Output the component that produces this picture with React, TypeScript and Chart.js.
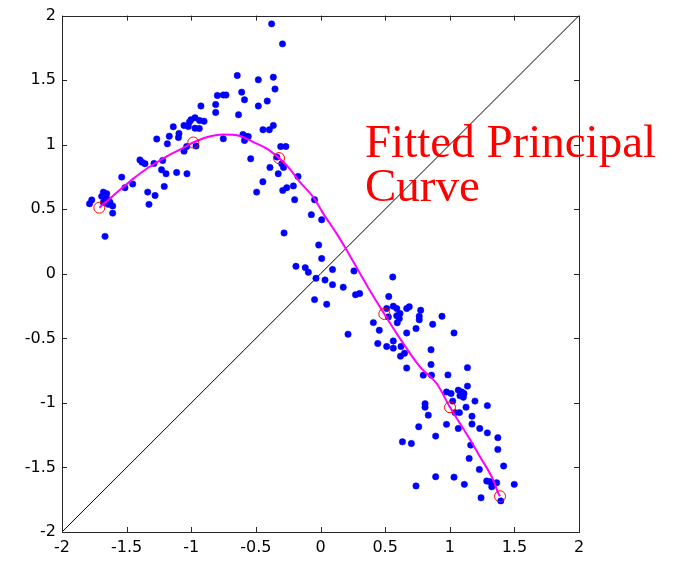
import React, { useEffect, useRef } from "react";
import { Chart, registerables } from "chart.js";

Chart.register(...registerables);

// Axis ticks
const xTickValues = [-2, -1.5, -1, -0.5, 0, 0.5, 1, 1.5, 2];
const yTickValues = [-2, -1.5, -1, -0.5, 0, 0.5, 1, 1.5, 2];

// Scattered observations (blue)
const scatterX = [
  -1.770, -1.787, -1.680, -1.654, -1.693, -1.667, -1.642, -1.629, -1.680, -1.642,
  -1.608, -1.608, -1.667, -1.538, -1.513, -1.453, -1.337, -1.280, -1.327, -1.209,
  -1.397, -1.381, -1.358, -1.288, -1.221, -1.230, -1.195, -1.113, -1.033, -1.267,
  -1.185, -1.170, -1.139, -1.095, -1.099, -1.056, -1.023, -1.014, -1.002, -0.971,
  -0.936, -0.901, -0.971, -0.938, -1.056, -1.035, -0.963, -0.925, -0.811, -0.811,
  -0.798, -0.752, -0.731, -0.752, -0.644, -0.610, -0.588, -0.634, -0.481, -0.365,
  -0.352, -0.412, -0.481, -0.378, -0.294, -0.365, -0.445, -0.396, -0.600, -0.571,
  -0.559, -0.588, -0.308, -0.268, -0.540, -0.337, -0.300, -0.286, -0.391, -0.327,
  -0.174, -0.446, -0.494, -0.292, -0.261, -0.210, -0.200, -0.046, -0.071, 0.009,
  -0.282, -0.014, 0.009, -0.190, -0.118, -0.094, 0.093, 0.259, -0.035, 0.035,
  0.093, 0.176, 0.271, 0.303, -0.046, 0.048, 0.559, 0.528, 0.512, 0.563,
  0.590, 0.667, 0.687, 0.775, 0.764, 0.764, 0.940, 0.868, 0.739, 0.667,
  0.409, 0.455, 0.213, 1.033, 0.443, 0.512, 0.563, 0.563, 0.623, 0.650,
  0.619, 0.855, 0.667, 0.855, 1.137, 0.795, 0.859, 0.986, 0.615, 0.590,
  0.610, 0.594, 0.525, 0.975, 1.010, 1.066, 1.093, 1.110, 1.079, 1.105,
  1.137, 1.023, 1.195, 1.291, 1.126, 0.809, 0.809, 0.834, 1.041, 1.075,
  1.172, 0.975, 1.172, 1.066, 1.232, 1.291, 0.760, 0.891, 1.372, 1.162,
  1.372, 0.634, 0.703, 1.150, 1.417, 1.229, 0.891, 1.033, 0.739, 1.113,
  1.286, 1.311, 1.337, 1.325, 1.363, 1.499, 1.242, 1.395,
];
const scatterY = [
  0.572, 0.543, 0.633, 0.620, 0.600, 0.590, 0.574, 0.555, 0.553, 0.538,
  0.526, 0.470, 0.290, 0.749, 0.667, 0.696, 0.633, 0.607, 0.538, 0.677,
  0.882, 0.865, 0.853, 0.855, 0.878, 0.806, 0.775, 0.785, 0.775, 1.044,
  1.007, 1.066, 1.139, 1.087, 1.056, 1.149, 1.141, 1.176, 1.193, 1.209,
  1.188, 1.182, 1.128, 1.126, 0.950, 0.986, 0.990, 1.300, 1.311, 1.250,
  1.381, 1.385, 1.385, 1.046, 1.536, 1.407, 1.348, 1.232, 1.503, 1.523,
  1.431, 1.338, 1.300, 1.936, 1.781, 1.149, 1.116, 1.116, 1.079, 1.062,
  1.064, 1.033, 0.986, 0.986, 0.891, 0.904, 0.853, 0.824, 0.824, 0.775,
  0.754, 0.713, 0.633, 0.646, 0.667, 0.681, 0.574, 0.574, 0.458, 0.419,
  0.316, 0.223, 0.118, 0.058, 0.048, 0.012, 0.033, 0.022, -0.035, -0.048,
  -0.084, -0.104, -0.162, -0.153, -0.200, -0.236, -0.025, -0.176, -0.269, -0.251,
  -0.269, -0.269, -0.255, -0.282, -0.329, -0.356, -0.329, -0.391, -0.424, -0.458,
  -0.378, -0.437, -0.468, -0.458, -0.540, -0.563, -0.576, -0.520, -0.563, -0.615,
  -0.638, -0.588, -0.730, -0.703, -0.727, -0.785, -0.785, -0.783, -0.308, -0.325,
  -0.347, -0.379, -0.334, -0.915, -0.927, -0.901, -0.915, -0.927, -0.944, -0.956,
  -0.870, -0.986, -0.986, -1.021, -1.033, -1.006, -1.033, -1.095, -1.075, -1.075,
  -1.103, -1.166, -1.164, -1.198, -1.198, -1.232, -1.185, -1.257, -1.269, -1.327,
  -1.360, -1.301, -1.314, -1.430, -1.489, -1.515, -1.572, -1.575, -1.643, -1.631,
  -1.605, -1.611, -1.629, -1.650, -1.619, -1.631, -1.735, -1.759,
];

// Fitted principal curve (magenta)
const curveX = [
  -1.711, -1.526, -1.448, -1.345, -1.242, -1.151, -1.062, -0.984, -0.880, -0.752,
  -0.623, -0.520, -0.416, -0.321, -0.249, -0.159, -0.056, 0.022, 0.125, 0.203,
  0.306, 0.396, 0.494, 0.590, 0.770, 0.899, 1.002, 1.144, 1.234, 1.337, 1.376, 1.389,
];
const curveY = [
  0.512, 0.672, 0.737, 0.814, 0.878, 0.930, 0.976, 1.017, 1.058, 1.079,
  1.068, 1.020, 0.969, 0.896, 0.826, 0.710, 0.594, 0.466, 0.311, 0.182,
  0.002, -0.153, -0.311, -0.463, -0.721, -0.850, -1.034, -1.263, -1.417, -1.598, -1.701, -1.723,
];

// Knots on the curve (red circles)
const knotX = [-1.711, -0.984, -0.321, 0.494, 1.002, 1.389];
const knotY = [0.512, 1.017, 0.896, -0.311, -1.034, -1.723];

// Diagonal reference line
const diagX = [-2, 2];
const diagY = [-2, 2];

// Annotation text
const labelLines = ["Fitted Principal", "Curve"];
const labelX = 0.344;
const labelYs = [0.901, 0.561];

const zip = (xs: number[], ys: number[]) => xs.map((x, i) => ({ x, y: ys[i] }));

const framePlugin = {
  id: "frame",
  afterDraw(chart: any) {
    const { ctx, chartArea } = chart;
    const { left, right, top, bottom } = chartArea;
    const xs = chart.scales.x;
    const ys = chart.scales.y;
    ctx.save();
    ctx.strokeStyle = "#262626";
    ctx.lineWidth = 1;
    ctx.strokeRect(Math.round(left) + 0.5, Math.round(top) + 0.5, Math.round(right - left), Math.round(bottom - top));
    const tl = 5;
    ctx.beginPath();
    xTickValues.forEach((v) => {
      const px = Math.round(xs.getPixelForValue(v)) + 0.5;
      ctx.moveTo(px, bottom);
      ctx.lineTo(px, bottom - tl);
      ctx.moveTo(px, top);
      ctx.lineTo(px, top + tl);
    });
    yTickValues.forEach((v) => {
      const py = Math.round(ys.getPixelForValue(v)) + 0.5;
      ctx.moveTo(left, py);
      ctx.lineTo(left + tl, py);
      ctx.moveTo(right, py);
      ctx.lineTo(right - tl, py);
    });
    ctx.stroke();

    ctx.fillStyle = "#ff0000";
    ctx.font = '47px "Liberation Serif", "Times New Roman", serif';
    ctx.textAlign = "left";
    ctx.textBaseline = "alphabetic";
    labelLines.forEach((line, i) => {
      ctx.fillText(line, xs.getPixelForValue(labelX), ys.getPixelForValue(labelYs[i]));
    });
    ctx.restore();
  },
};

export default function App() {
  const ref = useRef<HTMLCanvasElement | null>(null);

  useEffect(() => {
    if (!ref.current) return;
    const tickFont = { family: '"DejaVu Sans", sans-serif', size: 16 };
    const chart = new Chart(ref.current, {
      type: "scatter",
      data: {
        datasets: [
          {
            label: "knots",
            data: zip(knotX, knotY),
            pointRadius: 5.5,
            pointBorderWidth: 1,
            pointBorderColor: "#ff0000",
            pointBackgroundColor: "rgba(0,0,0,0)",
            showLine: false,
            order: 0,
          },
          {
            label: "curve",
            data: zip(curveX, curveY),
            showLine: true,
            borderColor: "#ff00ff",
            borderWidth: 2,
            pointRadius: 0,
            cubicInterpolationMode: "monotone",
            order: 1,
          },
          {
            label: "data",
            data: zip(scatterX, scatterY),
            pointRadius: 3.2,
            pointBorderWidth: 0.5,
            pointBackgroundColor: "#0000ff",
            pointBorderColor: "#0000ff",
            order: 2,
          },
          {
            label: "diagonal",
            data: zip(diagX, diagY),
            showLine: true,
            borderColor: "#000000",
            borderWidth: 1,
            pointRadius: 0,
            order: 3,
          },
        ],
      },
      options: {
        animation: false,
        responsive: false,
        layout: { padding: { left: 0, top: 15, right: 101, bottom: 0 } },
        plugins: {
          legend: { display: false },
          tooltip: { enabled: false },
        },
        scales: {
          x: {
            type: "linear",
            min: -2,
            max: 2,
            afterBuildTicks: (scale: any) => {
              scale.ticks = xTickValues.map((v) => ({ value: v }));
            },
            afterFit: (scale: any) => {
              scale.height = 29;
            },
            ticks: {
              font: tickFont,
              color: "#000000",
              padding: 6,
              maxRotation: 0,
              autoSkip: false,
              callback: (v: any) => String(v),
            },
            grid: { display: false, drawTicks: false },
            border: { display: false },
          },
          y: {
            type: "linear",
            min: -2,
            max: 2,
            afterBuildTicks: (scale: any) => {
              scale.ticks = yTickValues.map((v) => ({ value: v }));
            },
            afterFit: (scale: any) => {
              scale.width = 62;
            },
            ticks: {
              font: tickFont,
              color: "#000000",
              padding: 6,
              autoSkip: false,
              callback: (v: any) => String(v),
            },
            grid: { display: false, drawTicks: false },
            border: { display: false },
          },
        },
      },
      plugins: [framePlugin],
    } as any);
    return () => chart.destroy();
  }, []);

  return (
    <div style={{ position: "fixed", left: 0, top: 0, width: 680, height: 561, background: "#ffffff" }}>
      <canvas ref={ref} width={680} height={561} style={{ width: 680, height: 561, display: "block" }} />
    </div>
  );
}
